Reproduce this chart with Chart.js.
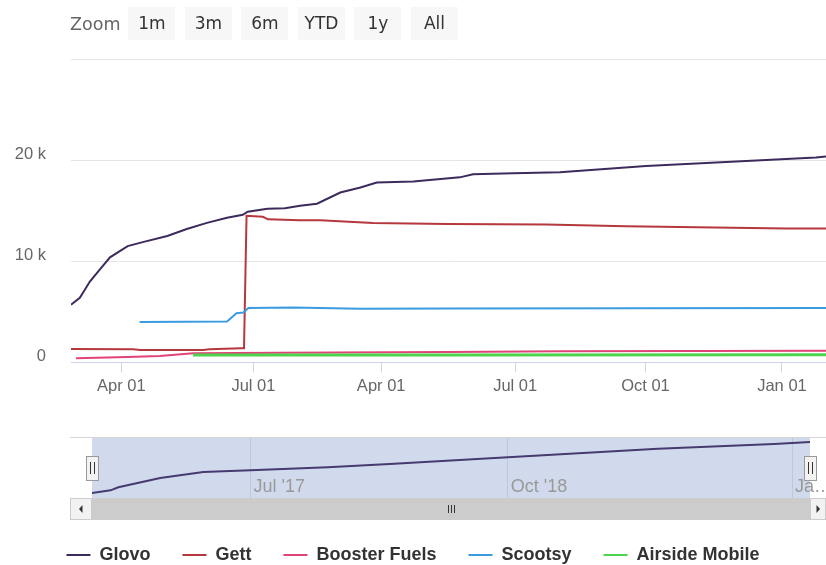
<!DOCTYPE html>
<html>
<head>
<meta charset="utf-8">
<script src="https://cdn.jsdelivr.net/npm/chart.js@4.4.0/dist/chart.umd.min.js"></script>
<style>
html, body { margin: 0; padding: 0; background: #fff; }
#wrap { position: relative; width: 826px; height: 565px; overflow: hidden; }
#wrap canvas { position: absolute; left: 0; top: 0; }
#nav { pointer-events: none; }
#zoomBar { position: absolute; left: 70px; top: 7px; height: 33px; display: flex; align-items: center; font-family: "DejaVu Sans", sans-serif; }
.zlabel { color: #666; font-size: 17.5px; margin-right: 8px; }
.zbtn { background: #f7f7f7; color: #333; font-size: 17px; width: 47px; height: 33px; line-height: 33px; text-align: center; margin-right: 9.5px; }
</style>
</head>
<body>
<div id="wrap">
  <canvas id="main" width="826" height="565"></canvas>
  <canvas id="nav" width="826" height="565"></canvas>
  <div id="zoomBar"></div>
</div>
<script>
// series (x = ordinal position on the main axis, y = value)
var seriesNames = ['Glovo', 'Gett', 'Booster Fuels', 'Scootsy', 'Airside Mobile'];
var seriesColors = ['#3d2b5c', '#b5383c', '#e0427a', '#3a9be0', '#4cd44c'];

var glovoX = [0, 1.4, 2, 3, 4.6, 6.2, 9, 11.4, 15.3, 18.4, 21.6, 24.8, 27.3, 28.1, 31.2, 34, 36.4, 39.1, 42.8, 46, 48.6, 54.4, 61.8, 63.9, 70.3, 77.7, 91.4, 107.3, 118.4, 120];
var glovoY = [5700, 6400, 7000, 8000, 9200, 10400, 11500, 11900, 12500, 13200, 13800, 14300, 14600, 14900, 15200, 15250, 15500, 15700, 16800, 17300, 17800, 17900, 18300, 18600, 18700, 18800, 19420, 19920, 20260, 20360];

var gettX = [0, 9.9, 11, 21, 22, 27.1, 27.5, 27.9, 30.5, 31.3, 36.4, 39.6, 48, 59.8, 75.5, 88.2, 113.7, 120];
var gettY = [1340, 1300, 1240, 1240, 1300, 1400, 1400, 14500, 14400, 14150, 14070, 14070, 13800, 13700, 13640, 13470, 13240, 13250];

var boosterX = [0.8, 9, 14.1, 19.4, 33, 60, 78, 120];
var boosterY = [420, 550, 640, 910, 970, 1050, 1100, 1170];

var scootsyX = [10.9, 24.8, 26.3, 27.4, 28.2, 35.3, 45.9, 60, 120];
var scootsyY = [4000, 4050, 4880, 4940, 5380, 5440, 5320, 5330, 5380];

var airsideX = [19.4, 60, 120];
var airsideY = [740, 750, 760];

// main axis ticks
var tickIndex = [8, 29, 49.3, 70.6, 91.3, 113];
var tickLabels = ['Apr 01', 'Jul 01', 'Apr 01', 'Jul 01', 'Oct 01', 'Jan 01'];
var yTicks = [0, 10000, 20000, 30000];

// navigator (Glovo over the whole period)
var navX = [0, 3.1, 4.4, 11.4, 18.6, 26.5, 39.4, 50.5, 57.8, 69.5, 94.6, 114, 120];
var navY = [5700, 6470, 7340, 10010, 11740, 12220, 13090, 14120, 14810, 15960, 18430, 19785, 20360];
var navTickPos = [26.5, 69.5, 117];
var navTickLabels = ["Jul '17", "Oct '18", "Ja\u2026"];

var zoomButtons = ['1m', '3m', '6m', 'YTD', '1y', 'All'];

Chart.defaults.font.family = '"Liberation Sans", Arial, sans-serif';

function pts(xs, ys) {
    return xs.map(function (x, i) { return { x: x, y: ys[i] }; });
}

var allX = [glovoX, gettX, boosterX, scootsyX, airsideX];
var allY = [glovoY, gettY, boosterY, scootsyY, airsideY];

var datasets = seriesNames.map(function (name, i) {
    return {
        label: name,
        data: pts(allX[i], allY[i]),
        borderColor: seriesColors[i],
        backgroundColor: seriesColors[i],
        borderWidth: i == 4 ? 3 : 2,
        order: 4 - i
    };
});

var bar = document.getElementById('zoomBar');
bar.innerHTML = '<span class="zlabel">Zoom</span>' + zoomButtons.map(function (b) {
    return '<span class="zbtn">' + b + '</span>';
}).join('');

var mainChart = new Chart(document.getElementById('main'), {
    type: 'line',
    data: { datasets: datasets },
    options: {
        responsive: false,
        animation: false,
        layout: { padding: { top: 59, left: 0, right: 0, bottom: -9 } },
        elements: { point: { radius: 0 }, line: { tension: 0 } },
        plugins: {
            tooltip: { enabled: false },
            legend: {
                position: 'bottom',
                labels: {
                    boxWidth: 24, boxHeight: 2, padding: 32,
                    color: '#333', font: { size: 18, weight: 'bold' },
                    sort: function (a, b) { return a.datasetIndex - b.datasetIndex; },
                    generateLabels: function (chart) {
                        var items = Chart.defaults.plugins.legend.labels.generateLabels(chart);
                        items.forEach(function (it) { it.fillStyle = it.strokeStyle; it.lineWidth = 0; });
                        return items;
                    }
                }
            }
        },
        scales: {
            x: {
                type: 'linear', min: 0, max: 120,
                afterBuildTicks: function (s) { s.ticks = tickIndex.map(function (v) { return { value: v }; }); },
                afterFit: function (s) { s.height = 151.5; },
                grid: { drawOnChartArea: false, color: '#ccd6eb', tickLength: 10 },
                border: { color: '#ccd6eb' },
                ticks: {
                    autoSkip: false, maxRotation: 0, padding: 4, color: '#666', font: { size: 16.5 },
                    callback: function (v, i) { return tickLabels[i]; }
                }
            },
            y: {
                min: 0, max: 30000,
                afterBuildTicks: function (s) { s.ticks = yTicks.map(function (v) { return { value: v }; }); },
                afterFit: function (s) { s.width = 71; },
                grid: { color: '#e6e6e6', drawTicks: false },
                border: { display: false },
                ticks: {
                    padding: 25, labelOffset: -6, color: '#666', font: { size: 16.5 },
                    callback: function (v) { return v == 30000 ? '' : (v == 0 ? '0' : (v / 1000) + ' k'); }
                }
            }
        }
    }
});

// navigator extras: mask, outline, handles, scrollbar, labels
var navDecor = {
    id: 'navDecor',
    beforeDatasetsDraw: function (chart) {
        var ctx = chart.ctx, a = chart.chartArea;
        ctx.save();
        ctx.fillStyle = 'rgba(102,133,194,0.3)';
        ctx.fillRect(a.left, a.top, a.right - a.left, a.bottom - a.top);
        ctx.strokeStyle = '#d6d6d6';
        ctx.lineWidth = 1;
        ctx.beginPath();
        ctx.moveTo(70, a.top - 0.5);
        ctx.lineTo(826, a.top - 0.5);
        ctx.stroke();
        ctx.restore();
    },
    afterDatasetsDraw: function (chart) {
        var ctx = chart.ctx, a = chart.chartArea, xs = chart.scales.x;
        ctx.save();
        ctx.font = '18px "Liberation Sans", Arial, sans-serif';
        ctx.fillStyle = '#999';
        ctx.textAlign = 'left';
        ctx.textBaseline = 'middle';
        navTickPos.forEach(function (p, i) {
            ctx.fillText(navTickLabels[i], xs.getPixelForValue(p) + 3, a.bottom - 11);
        });

        // scrollbar
        var sTop = a.bottom, sH = 22;
        ctx.fillStyle = '#cccccc';
        ctx.fillRect(a.left, sTop, a.right - a.left, sH);
        ctx.fillStyle = '#f2f2f2';
        ctx.strokeStyle = '#cccccc';
        ctx.fillRect(70, sTop, a.left - 70, sH);
        ctx.strokeRect(70.5, sTop + 0.5, a.left - 71, sH - 1);
        ctx.fillRect(a.right, sTop, 826 - a.right, sH);
        ctx.strokeRect(a.right + 0.5, sTop + 0.5, 826 - a.right - 1, sH - 1);
        ctx.fillStyle = '#333';
        var cy = sTop + sH / 2;
        var lx = (70 + a.left) / 2, rx = (a.right + 826) / 2;
        ctx.beginPath();
        ctx.moveTo(lx + 1.5, cy - 4); ctx.lineTo(lx - 2, cy); ctx.lineTo(lx + 1.5, cy + 4); ctx.closePath();
        ctx.fill();
        ctx.beginPath();
        ctx.moveTo(rx - 1.5, cy - 4); ctx.lineTo(rx + 2, cy); ctx.lineTo(rx - 1.5, cy + 4); ctx.closePath();
        ctx.fill();
        var gx = Math.round((a.left + a.right) / 2);
        ctx.strokeStyle = '#333';
        ctx.lineWidth = 1;
        [-3, 0, 3].forEach(function (d) {
            ctx.beginPath();
            ctx.moveTo(gx + d + 0.5, cy - 4);
            ctx.lineTo(gx + d + 0.5, cy + 4);
            ctx.stroke();
        });

        // handles
        var hy = (a.top + a.bottom) / 2;
        [a.left, a.right].forEach(function (hx) {
            var x0 = Math.round(hx - 6) + 0.5, y0 = Math.round(hy - 12) + 0.5;
            ctx.fillStyle = '#f2f2f2';
            ctx.strokeStyle = '#999';
            ctx.fillRect(x0, y0, 12, 24);
            ctx.strokeRect(x0, y0, 12, 24);
            ctx.strokeStyle = '#333';
            [-2, 2].forEach(function (d) {
                ctx.beginPath();
                ctx.moveTo(Math.round(hx + d) + 0.5, hy - 6);
                ctx.lineTo(Math.round(hx + d) + 0.5, hy + 6);
                ctx.stroke();
            });
        });
        ctx.restore();
    }
};

var navChart = new Chart(document.getElementById('nav'), {
    type: 'line',
    data: {
        datasets: [{
            label: seriesNames[0],
            data: pts(navX, navY),
            borderColor: '#463a6e',
            borderWidth: 2
        }]
    },
    options: {
        responsive: false,
        animation: false,
        layout: { padding: { top: 438, left: 92, right: 16, bottom: 67 } },
        elements: { point: { radius: 0 }, line: { tension: 0 } },
        plugins: { legend: { display: false }, tooltip: { enabled: false } },
        scales: {
            x: {
                type: 'linear', min: 0, max: 120,
                afterBuildTicks: function (s) { s.ticks = navTickPos.map(function (v) { return { value: v }; }); },
                afterFit: function (s) { s.height = 0; },
                grid: { color: '#e6e6e6', drawTicks: false },
                border: { display: false },
                ticks: { display: false }
            },
            y: { display: false, min: 4260, max: 21500 }
        }
    },
    plugins: [navDecor]
});
</script>
</body>
</html>
